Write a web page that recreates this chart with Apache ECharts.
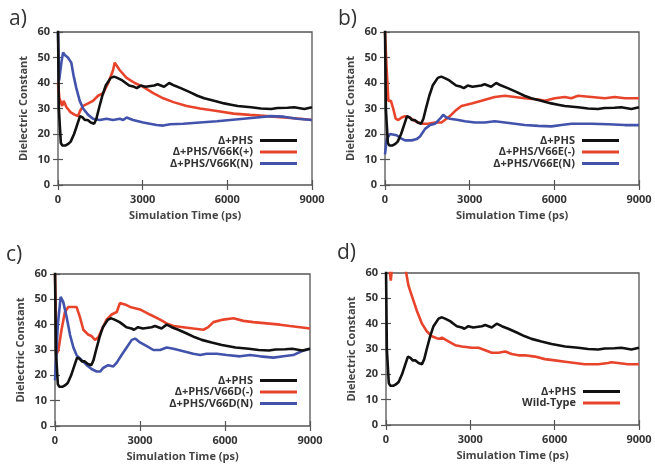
<!DOCTYPE html>
<html>
<head>
<meta charset="utf-8">
<script src="https://cdn.jsdelivr.net/npm/echarts@6/dist/echarts.min.js"></script>
<style>html,body{margin:0;padding:0;background:#fff}#c{width:655px;height:464px}</style>
</head>
<body>
<div id="c"></div>
<script>
// ---- data ----
const xTicks = [0, 3000, 6000, 9000];
const yTicks = [0, 10, 20, 30, 40, 50, 60];
const panelLabels = ['a)', 'b)', 'c)', 'd)'];
const xName = 'Simulation Time (ps)';
const yName = 'Dielectric Constant';
const refName = 'Δ+PHS';

// Δ+PHS (same in all panels)  [time ps, value]
const phs = [[0,62],[30,30],[100,16.5],[150,15.5],[270,15.5],[350,16],[450,17],[570,20],[690,24],[780,27],[870,26.5],[950,25.5],[1050,25.5],[1160,24.5],[1280,24],[1360,26],[1450,30],[1570,35],[1690,39],[1870,42],[1990,42.5],[2100,42],[2280,41],[2400,40],[2520,39],[2580,39.5],[2700,38.5],[2790,38],[2930,39],[3100,38.5],[3410,39],[3530,39.5],[3760,38.5],[3940,40],[4120,39],[4350,38],[4650,36.5],[4940,35],[5180,34],[5530,33],[5890,32],[6130,31.5],[6370,31],[6840,30.5],[7190,30],[7550,29.8],[7780,30.2],[8130,30.3],[8370,30.5],[8730,29.8],[9000,30.5]];

// panel a
const nameA1 = 'Δ+PHS/V66K(+)';
const nameA2 = 'Δ+PHS/V66K(N)';
const v66kPlus = [[0,40],[50,34],[150,31],[200,33],[300,30.5],[450,28.5],[600,27.5],[710,27],[780,29],[890,31],[1070,32],[1240,33],[1420,35],[1600,36],[1780,40],[1950,45],[2010,48],[2100,46.5],[2190,45],[2430,42],[2720,40],[3020,38.5],[3375,36],[3730,34],[4090,32.5],[4560,31],[5030,30],[5630,29],[6220,28],[6800,27.5],[7400,27],[8000,26.5],[8590,26],[9000,25.5]];
const v66kN = [[0,60],[40,41],[120,48],[180,52],[240,51],[350,50],[470,48],[550,43],[650,38],[770,33],[890,30],[1070,27.5],[1240,26],[1480,25.5],[1720,26],[1950,25.5],[2190,26],[2310,25.5],[2430,26.5],[2660,25.5],[3020,24.5],[3490,23.5],[3730,23.3],[3970,23.8],[4440,24],[5030,24.5],[5630,25],[6100,25.5],[6570,26],[7050,26.5],[7520,27],[8000,26.8],[8470,26],[9000,25.5]];

// panel b
const nameB1 = 'Δ+PHS/V66E(-)';
const nameB2 = 'Δ+PHS/V66E(N)';
const v66eMinus = [[0,60],[60,45],[120,33],[210,33],[290,30],[380,26],[470,25.5],[590,26.5],[710,27],[880,26.5],[1000,25.5],[1180,24.5],[1360,24],[1420,23.5],[1530,24],[1770,24.5],[2000,24.5],[2120,25.5],[2300,27],[2480,29],[2710,31],[3070,32],[3420,33],[3890,34.5],[4250,35],[4600,34.5],[4950,34],[5430,33.5],[5660,33],[6020,34],[6370,34.5],[6600,34],[6840,35],[7320,34.5],[7790,34],[8140,34.5],[8500,34],[9000,34]];
const v66eN = [[0,12],[60,18],[180,20],[240,20.5],[410,19.5],[530,18.5],[710,17.5],[950,17.5],[1120,18],[1240,19],[1420,22],[1600,23.5],[1770,24],[1950,26],[2060,27.5],[2180,26.5],[2300,26],[2600,25.5],[2830,25],[3190,24.5],[3540,24.5],[3890,25],[4250,24.5],[4600,24],[4950,23.5],[5430,23.2],[5900,23],[6250,23.5],[6610,24],[7320,24],[7900,23.8],[8500,23.5],[9000,23.5]];

// panel c
const nameC1 = 'Δ+PHS/V66D(-)';
const nameC2 = 'Δ+PHS/V66D(N)';
const v66dMinus = [[0,60],[60,28.5],[120,30],[230,38],[350,45],[470,47],[760,47],[880,43],[1000,38],[1180,36],[1290,35.5],[1410,34],[1530,35],[1650,38],[1820,42],[2000,44],[2180,45],[2290,48.5],[2470,48],[2650,47],[3000,46],[3350,44],[3710,42],[3940,40.5],[4180,39.5],[4530,39],[4880,38.5],[5240,38],[5410,39],[5590,41],[5940,42],[6300,42.5],[6650,41.5],[7000,41],[7470,40.5],[7940,40],[8290,39.5],[8650,39],[9000,38.5]];
const v66dN = [[0,18],[100,40],[200,51],[290,49],[410,43],[530,36],[650,31],[760,28],[940,26],[1120,24],[1290,22.5],[1470,21.5],[1590,21.5],[1710,23],[1880,24],[2060,23.5],[2180,25],[2350,28],[2530,31],[2710,34],[2830,34.5],[3000,33],[3240,31.5],[3470,30],[3710,30],[3940,31],[4180,30.5],[4530,29.5],[4880,28.5],[5120,28],[5350,28.5],[5710,28.5],[6060,28],[6530,27.5],[6880,28],[7240,27.5],[7710,27],[8060,27.5],[8410,28],[8700,29.5],[9000,30.5]];

// panel d
const nameD1 = 'Wild-Type';
const wildType = [[0,100],[80,75],[120,62],[170,57],[220,63],[300,75],[500,68],[720,60],[800,55],[950,50],[1100,45],[1280,40],[1450,37],[1630,35],[1870,34],[1990,34.5],[2220,33],[2460,31.5],[2700,31],[3050,30.5],[3290,30.5],[3530,29.5],[3760,28.5],[4000,28.5],[4240,29],[4470,28],[4710,27.5],[4940,27.5],[5300,27],[5650,26],[6010,25.5],[6370,25],[6720,24.5],[7070,24],[7550,24],[7900,24.5],[8020,24.8],[8250,24.5],[8610,24],[9000,24]];

// ---- styles ----
const BLACK = '#111111', RED = '#e8442c', BLUE = '#4353ac';
const FONT = "'Open Sans', sans-serif";
const grids = [
  {left: 58, top: 32, width: 254, height: 153},
  {left: 385, top: 32, width: 254, height: 153},
  {left: 55, top: 274, width: 255, height: 152},
  {left: 386, top: 273, width: 253, height: 152}
];
const legendPos = [
  {right: 358, top: 135},
  {right: 36, top: 135},
  {right: 358, top: 375},
  {right: 35, top: 386}
];
const labelPos = [[9, 9], [338, 9], [6, 245], [337, 243]];

const panels = [
  [[refName, phs, BLACK], [nameA1, v66kPlus, RED], [nameA2, v66kN, BLUE]],
  [[refName, phs, BLACK], [nameB1, v66eMinus, RED], [nameB2, v66eN, BLUE]],
  [[refName, phs, BLACK], [nameC1, v66dMinus, RED], [nameC2, v66dN, BLUE]],
  [[refName, phs, BLACK], [nameD1, wildType, RED]]
];

const TXT = {color: '#333', fontSize: 11, fontWeight: 'bold', fontFamily: FONT};
const tickStyle = {show: true, inside: true, length: 5, lineStyle: {color: '#555', width: 1.2}};
const xAxes = [], yAxes = [], series = [], legends = [], graphics = [];
grids.forEach((g, i) => {
  xAxes.push({gridIndex: i, type: 'value', min: xTicks[0], max: xTicks[xTicks.length-1], interval: xTicks[1]-xTicks[0],
    position: 'bottom', axisLine: {show: false}, axisTick: tickStyle, splitLine: {show: false},
    axisLabel: Object.assign({margin: 9, formatter: v => String(v)}, TXT),
    name: xName, nameLocation: 'middle', nameGap: 25,
    nameTextStyle: Object.assign({}, TXT, {color: '#444'})});
  yAxes.push({gridIndex: i, type: 'value', min: yTicks[0], max: yTicks[yTicks.length-1], interval: yTicks[1]-yTicks[0],
    position: 'left', axisLine: {show: false}, axisTick: tickStyle, splitLine: {show: false},
    axisLabel: Object.assign({margin: 8, formatter: v => String(v)}, TXT),
    name: yName, nameLocation: 'middle', nameGap: 29,
    nameTextStyle: Object.assign({}, TXT, {color: '#444'})});
});
grids.forEach((g, i) => {
  xAxes.push({gridIndex: i, type: 'value', min: xTicks[0], max: xTicks[xTicks.length-1], interval: xTicks[1]-xTicks[0],
    position: 'top', axisLine: {show: false}, axisTick: tickStyle, splitLine: {show: false}, axisLabel: {show: false}});
  yAxes.push({gridIndex: i, type: 'value', min: yTicks[0], max: yTicks[yTicks.length-1], interval: yTicks[1]-yTicks[0],
    position: 'right', axisLine: {show: false}, axisTick: tickStyle, splitLine: {show: false}, axisLabel: {show: false}});
});
panels.forEach((p, i) => {
  p.forEach(([name, data, color]) => {
    series.push({type: 'line', name, data, xAxisIndex: i, yAxisIndex: i, showSymbol: false, symbol: 'none',
      clip: true, animation: false, lineStyle: {color, width: 2.6}, itemStyle: {color}, z: color === BLACK ? 3 : 2});
  });
  legends.push(Object.assign({orient: 'vertical', align: 'right', padding: 0, itemGap: 0.5,
    itemWidth: 37, itemHeight: 3, icon: 'rect', selectedMode: false,
    data: p.map(s => ({name: s[0], itemStyle: {color: s[2]}})),
    textStyle: Object.assign({}, TXT, {lineHeight: 11, padding: [0, 2, 0, 0]})}, legendPos[i]));
  graphics.push({type: 'text', left: labelPos[i][0], top: labelPos[i][1],
    style: {text: panelLabels[i], fontSize: 21, fontFamily: FONT, fill: '#333'}});
});

const chart = echarts.init(document.getElementById('c'), null, {renderer: 'canvas'});
chart.setOption({
  animation: false,
  backgroundColor: '#fff',
  grid: grids.map(g => Object.assign({show: true, borderColor: '#555', borderWidth: 1.3, backgroundColor: 'transparent'}, g)),
  xAxis: xAxes,
  yAxis: yAxes,
  legend: legends,
  series,
  graphic: graphics
});
</script>
</body>
</html>
